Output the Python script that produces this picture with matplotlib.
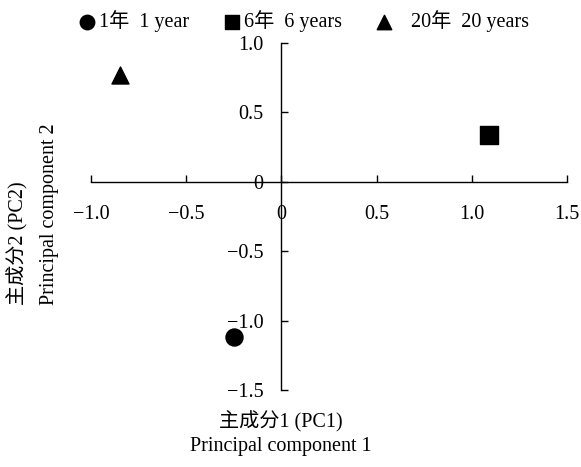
import matplotlib
matplotlib.use("Agg")
import matplotlib.pyplot as plt

plt.rcParams['font.family'] = ['Liberation Serif', 'Noto Sans CJK SC']

# data
labels = ["1年  1 year", "6年  6 years", "   20年  20 years"]
markers = ["o", "s", "^"]
pc1 = [-0.25, 1.09, -0.85]
pc2 = [-1.12, 0.34, 0.77]
xticks = [-1.0, -0.5, 0.0, 0.5, 1.0, 1.5]
yticks = [-1.5, -1.0, -0.5, 0.0, 0.5, 1.0]
xticklabels = ["\u22121.0", "\u22120.5", "0", "0.5", "1.0", "1.5"]
yticklabels = ["\u22121.5", "\u22121.0", "\u22120.5", "0", "0.5", "1.0"]

fig = plt.figure(figsize=(5.81, 4.67), dpi=100)
ax = fig.add_axes([0.1566, 0.1649, 0.8193, 0.7430])

for x, y, m, lab in zip(pc1, pc2, markers, labels):
    ax.scatter([x], [y], marker=m, s=150, color="black", label=lab, zorder=3)

ax.set_xlim(-1.0, 1.5)
ax.set_ylim(-1.5, 1.0)
ax.spines['left'].set_position(('data', 0))
ax.spines['bottom'].set_position(('data', 0))
ax.spines['right'].set_visible(False)
ax.spines['top'].set_visible(False)
for s in ('left', 'bottom'):
    ax.spines[s].set_linewidth(1.0)

ax.set_xticks(xticks)
ax.set_yticks(yticks)
ax.set_xticklabels(xticklabels)
ax.set_yticklabels(yticklabels)
ax.tick_params(axis='both', direction='in', length=5, width=1, labelsize=14.5)
ax.tick_params(axis='x', pad=17)
ax.tick_params(axis='y', pad=13)

fig.text(281/581, 1-422/467, "主成分1 (PC1)", ha='center', va='center', fontsize=14.5)
fig.text(281/581, 1-447/467, "Principal component 1", ha='center', va='center', fontsize=14.5)
fig.text(18/581, 1-305/467, "主成分2 (PC2)", rotation=90, ha='center', va='bottom', fontsize=14.5)
fig.text(50/581, 1-305/467, "Principal component 2", rotation=90, ha='center', va='bottom', fontsize=14.5)

fig.legend(loc='center left', bbox_to_anchor=(69/581, 1-21/467), ncol=3, frameon=False,
           fontsize=14.5, handletextpad=0.1, columnspacing=1.6, markerscale=0.85,
           borderaxespad=0, handlelength=1.0)

fig.savefig("out.png", dpi=100, facecolor="white")
